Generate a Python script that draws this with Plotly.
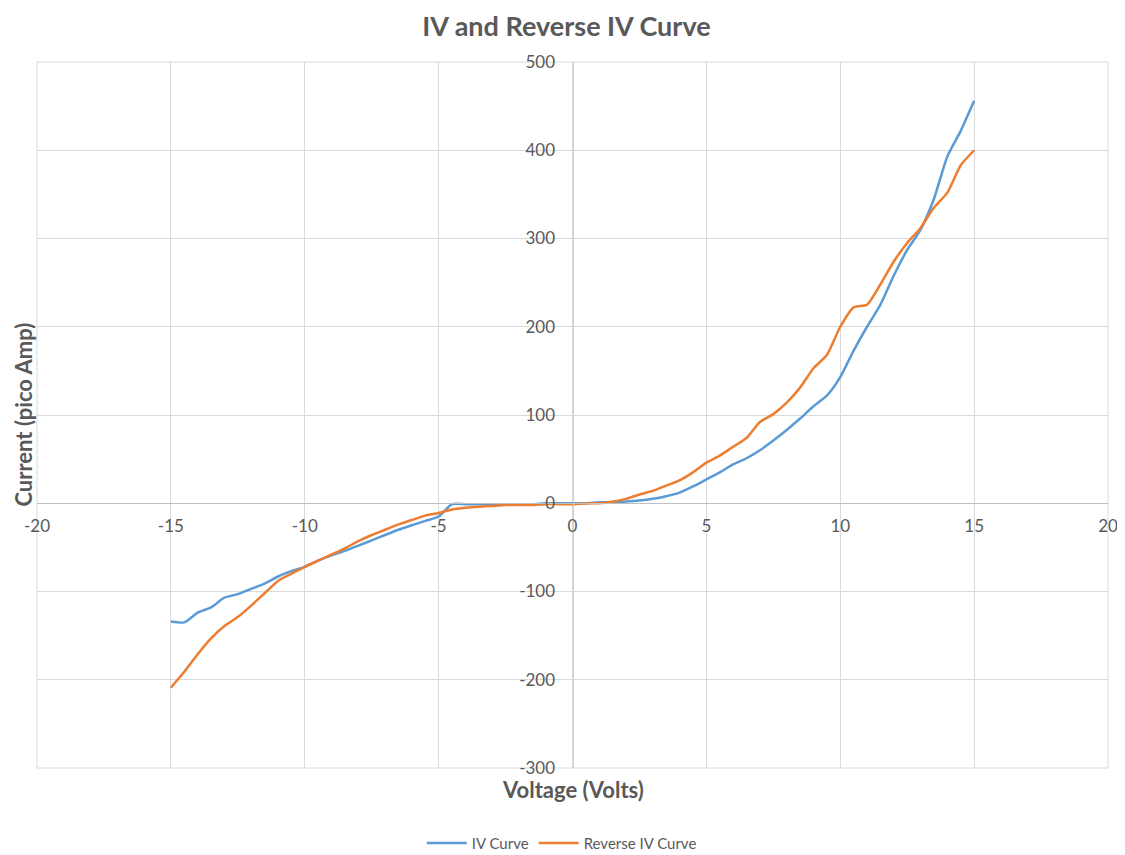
import plotly.graph_objects as go

voltage = [-15, -14.5, -14, -13.5, -13, -12.5, -12, -11.5, -11, -10.5, -10, -9.5, -9, -8.5, -8, -7.5, -7, -6.5, -6, -5.5, -5,
           -4.5, -4, -3.5, -3, -2.5, -2, -1.5, -1, -0.5, 0, 0.5, 1, 1.5, 2, 2.5, 3, 3.5, 4, 4.5, 5,
           5.5, 6, 6.5, 7, 7.5, 8, 8.5, 9, 9.5, 10, 10.5, 11, 11.5, 12, 12.5, 13, 13.5, 14, 14.5, 15]

iv_curve = [-134, -135, -124, -118, -107, -103, -97, -91, -83, -77, -72, -65, -59, -54, -48, -42, -36, -30, -25, -20, -15,
            -1, -1, -1, -1, -1, -1, -1, 0, 0, 0, 0, 1, 1, 2, 3, 5, 8, 12, 19, 27,
            35, 44, 51, 60, 71, 83, 96, 110, 122, 143, 173, 200, 225, 258, 287, 310, 345, 393, 422, 456]

reverse_iv = [-209, -191, -171, -153, -139, -129, -116, -102, -88, -80, -72, -65, -58, -51, -43, -36, -30, -24, -19, -14, -11,
              -7, -5, -4, -3, -2, -2, -2, -1, -1, -1, 0, 0, 2, 5, 10, 14, 20, 26, 35, 46,
              54, 64, 74, 92, 101, 114, 131, 153, 168, 200, 222, 225, 248, 274, 295, 312, 335, 352, 383, 400]

x_ticks = [-20, -15, -10, -5, 0, 5, 10, 15, 20]
x_tick_labels = ["-20", "-15", "-10", "-5", "0", "5", "10", "15", "20"]
y_ticks = [-300, -200, -100, 0, 100, 200, 300, 400, 500]
y_tick_labels = ["-300", "-200", "-100", "0", "100", "200", "300", "400", "500"]

x_range = [-20, 20]
y_range = [-300, 500]

FONT = "Lato, 'Open Sans', sans-serif"
GRAY = "#595959"
GRID = "#d9d9d9"

fig = go.Figure()
fig.add_trace(go.Scatter(x=voltage, y=iv_curve, mode="lines", name="IV Curve",
                         line=dict(color="#5b9bd5", width=2.5, shape="spline", smoothing=0.6)))
fig.add_trace(go.Scatter(x=voltage, y=reverse_iv, mode="lines", name="Reverse IV Curve",
                         line=dict(color="#ed7d31", width=2.5, shape="spline", smoothing=0.6)))

y_zero_pos = (0 - y_range[0]) / (y_range[1] - y_range[0])
x_zero_pos = (0 - x_range[0]) / (x_range[1] - x_range[0])

fig.update_layout(
    width=1117, height=847,
    paper_bgcolor="white", plot_bgcolor="white",
    margin=dict(l=29, r=17, t=54, b=87, autoexpand=False),
    font=dict(family=FONT, color=GRAY, size=15),
    title=dict(text="<b>IV and Reverse IV Curve</b>", x=0.5, xanchor="center", y=0.978, yanchor="middle",
               font=dict(size=27, color=GRAY, family=FONT)),
    xaxis=dict(range=x_range, tickvals=x_ticks, ticktext=x_tick_labels, showgrid=True, gridcolor=GRID, gridwidth=1,
               zeroline=False, showline=True, linecolor="#bfbfbf", linewidth=1, automargin=False,
               anchor="free", position=y_zero_pos, ticks="", tickfont=dict(size=17, color=GRAY),
               ticklabelstandoff=7, fixedrange=True),
    yaxis=dict(range=y_range, tickvals=y_ticks, ticktext=y_tick_labels, showgrid=True, gridcolor=GRID, gridwidth=1,
               zeroline=False, showline=True, linecolor="#cfcfcf", linewidth=1, automargin=False,
               anchor="free", position=x_zero_pos, ticks="", tickfont=dict(size=17, color=GRAY),
               ticklabelstandoff=14, fixedrange=True),
    legend=dict(orientation="h", x=0.49, xanchor="center", yref="container", y=0.014, yanchor="middle",
                font=dict(size=15, color=GRAY), itemwidth=40),
    showlegend=True,
)

fig.add_shape(type="rect", xref="paper", yref="paper", x0=0, y0=0, x1=1, y1=1,
              line=dict(color=GRID, width=1), layer="below")

fig.add_annotation(text="<b>Current (pico Amp)</b>", xref="paper", yref="paper",
                   x=-0.0135, y=0.5, xanchor="center", yanchor="middle", textangle=-90,
                   showarrow=False, font=dict(size=22, color=GRAY, family=FONT))
fig.add_annotation(text="<b>Voltage (Volts)</b>", xref="paper", yref="paper",
                   x=0.5, y=-0.031, xanchor="center", yanchor="middle",
                   showarrow=False, font=dict(size=22, color=GRAY, family=FONT))

fig.write_html("out.html")
